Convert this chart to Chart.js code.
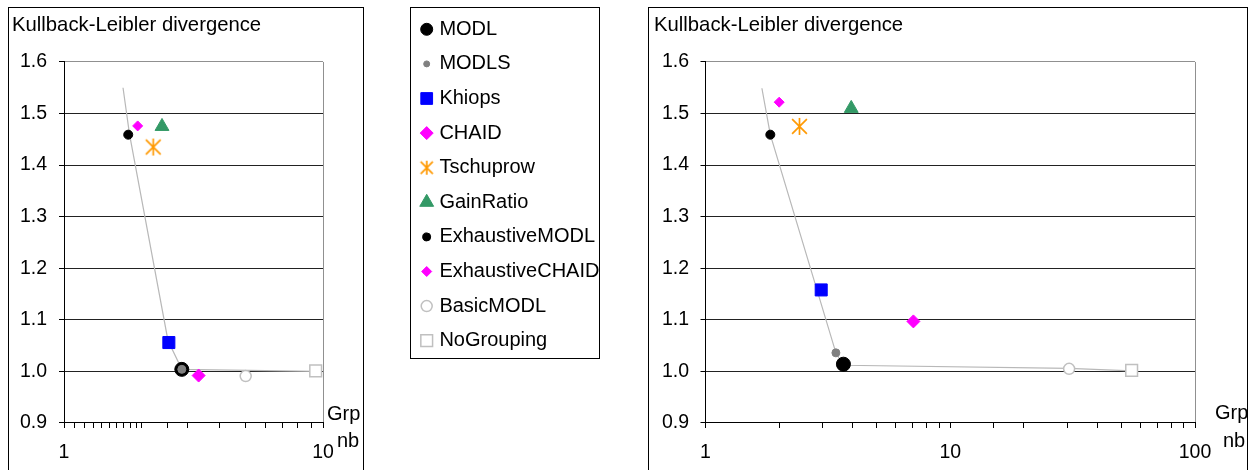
<!DOCTYPE html>
<html>
<head>
<meta charset="utf-8">
<script src="https://cdn.jsdelivr.net/npm/chart.js@4.4.1/dist/chart.umd.min.js"></script>
<style>
body { margin: 0; background: #fff; width: 1253px; height: 470px; position: relative; overflow: hidden;
       font-family: "Liberation Sans", Arial, sans-serif; }
.box { position: absolute; border: 1px solid #000; box-sizing: border-box; }
.box canvas { position: absolute; left: 0; top: 0; }
#leftBox { left: 8px; top: 7px; width: 356px; height: 480px; }
#legendBox { left: 410px; top: 7px; width: 190px; height: 352px; }
#rightBox { left: 648px; top: 7px; width: 600px; height: 480px; }
.lbl { position: absolute; font-size: 20px; line-height: 22px; color: #000; white-space: nowrap; }
</style>
</head>
<body>
<div class="box" id="leftBox"><canvas id="leftChart" width="354" height="462"></canvas></div>
<div class="box" id="legendBox"><canvas id="legendChart" width="188" height="350"></canvas></div>
<div class="box" id="rightBox"><canvas id="rightChart" width="598" height="462"></canvas></div>
<div class="lbl" style="left:327px; top:402px;">Grp</div>
<div class="lbl" style="left:337px; top:429px;">nb</div>
<div class="lbl" style="left:1215px; top:401px;">Grp</div>
<div class="lbl" style="left:1223px; top:429px;">nb</div>
<script>
// methods compared (legend order)
const methods = ['MODL', 'MODLS', 'Khiops', 'CHAID', 'Tschuprow', 'GainRatio',
                 'ExhaustiveMODL', 'ExhaustiveCHAID', 'BasicMODL', 'NoGrouping'];

// left chart: number of groups / KL divergence per method
const leftGroupNb = [2.85, 2.85, 2.54, 3.31, 2.21, 2.39, 1.77, 1.925, 5.03, 9.37];
const leftKL = [1.004, 1.004, 1.056, 0.992, 1.435, 1.475, 1.459, 1.476, 0.991, 1.001];

// right chart
const rightGroupNb = [3.66, 3.41, 2.97, 7.07, 2.42, 3.94, 1.84, 2.0, 30.6, 55.1];
const rightKL = [1.014, 1.036, 1.158, 1.097, 1.475, 1.510, 1.459, 1.522, 1.005, 1.002];

// grey curve (no legend entry)
const leftCurveNb = [1.69, 1.79, 2.52, 2.85, 9.37];
const leftCurveKL = [1.55, 1.46, 1.06, 1.004, 1.0];
const rightCurveNb = [1.70, 1.84, 3.41, 3.66, 30.6, 55.1];
const rightCurveKL = [1.549, 1.459, 1.036, 1.012, 1.006, 1.001];

const yTickLabels = ['0.9', '1.0', '1.1', '1.2', '1.3', '1.4', '1.5', '1.6'];
const leftXMax = 10;
const rightXMax = 100;
const yTitle = 'Kullback-Leibler divergence';

Chart.defaults.font.family = '"Liberation Sans", Arial, sans-serif';
Chart.defaults.color = '#000';

// six-armed asterisk like the Excel marker
function makeAsterisk(size, color) {
    const c = document.createElement('canvas');
    c.width = size;
    c.height = size;
    const ctx = c.getContext('2d');
    const m = size / 2;
    const r = size / 2 - 1;
    ctx.strokeStyle = color;
    ctx.lineWidth = 1.7;
    ctx.beginPath();
    ctx.moveTo(m, m - r); ctx.lineTo(m, m + r);
    ctx.moveTo(m - r * 0.87, m - r * 0.87); ctx.lineTo(m + r * 0.87, m + r * 0.87);
    ctx.moveTo(m + r * 0.87, m - r * 0.87); ctx.lineTo(m - r * 0.87, m + r * 0.87);
    ctx.stroke();
    return c;
}

const markerStyles = {
    'MODL':            { style: 'circle',   r: 7,   lr: 6,   bg: '#000000', bd: '#000000', bw: 1,   order: 2 },
    'MODLS':           { style: 'circle',   r: 4,   lr: 3,   bg: '#808080', bd: '#808080', bw: 1,   order: 1 },
    'Khiops':          { style: 'rect',     r: 8.5, lr: 8.3, bg: '#0000FF', bd: '#0000FF', bw: 1,   order: 1 },
    'CHAID':           { style: 'rectRot',  r: 6.5, lr: 6.5, bg: '#FF00FF', bd: '#FF00FF', bw: 1,   order: 1 },
    'Tschuprow':       { style: makeAsterisk(19, '#FF9900'), legendStyle: makeAsterisk(16, '#FF9900'),
                         r: 9, lr: 8, bg: '#FF9900', bd: '#FF9900', bw: 1, order: 1 },
    'GainRatio':       { style: 'triangle', r: 8,   lr: 8,   bg: '#339966', bd: '#339966', bw: 1,   order: 1 },
    'ExhaustiveMODL':  { style: 'circle',   r: 4.5, lr: 4,   bg: '#000000', bd: '#000000', bw: 1,   order: 1 },
    'ExhaustiveCHAID': { style: 'rectRot',  r: 5,   lr: 5,   bg: '#FF00FF', bd: '#FF00FF', bw: 1,   order: 1 },
    'BasicMODL':       { style: 'circle',   r: 5.5, lr: 5.5, bg: '#FFFFFF', bd: '#C0C0C0', bw: 1.5, order: 1 },
    'NoGrouping':      { style: 'rect',     r: 8.3, lr: 8.3, bg: '#FFFFFF', bd: '#C0C0C0', bw: 1.5, order: 1 }
};

function isPow10(v) {
    const l = Math.log10(v);
    return Math.abs(l - Math.round(l)) < 1e-9;
}

function buildDatasets(groupNb, kl, curveNb, curveKL) {
    const sets = methods.map((name, i) => {
        const s = markerStyles[name];
        return {
            label: name,
            data: [{ x: groupNb[i], y: kl[i] }],
            pointStyle: s.style,
            pointRadius: s.r,
            backgroundColor: s.bg,
            borderColor: s.bd,
            borderWidth: s.bw,
            order: s.order,
            clip: false
        };
    });
    sets.push({
        label: 'curve',
        data: curveNb.map((x, i) => ({ x: x, y: curveKL[i] })),
        showLine: true,
        pointRadius: 0,
        borderColor: '#b8b8b8',
        borderWidth: 1.2,
        order: 3,
        clip: false
    });
    return sets;
}

function makePlot(canvasId, groupNb, kl, curveNb, curveKL, xMax, pad) {
    const yMin = parseFloat(yTickLabels[0]);
    const yMax = parseFloat(yTickLabels[yTickLabels.length - 1]);
    new Chart(document.getElementById(canvasId), {
        type: 'scatter',
        data: { datasets: buildDatasets(groupNb, kl, curveNb, curveKL) },
        options: {
            responsive: false,
            animation: false,
            events: [],
            layout: { autoPadding: false, padding: { left: pad.left, right: pad.right, top: 0, bottom: 0 } },
            plugins: {
                legend: { display: false },
                tooltip: { enabled: false },
                title: {
                    display: true,
                    text: yTitle,
                    align: 'start',
                    color: '#000',
                    font: { size: 20.3, weight: 'normal', lineHeight: 1.2 },
                    padding: { top: 5.3, bottom: 24.3 }
                }
            },
            scales: {
                x: {
                    type: 'logarithmic',
                    min: 1,
                    max: xMax,
                    afterFit: scale => { scale.height = 47; },
                    border: { color: '#000', width: 1 },
                    grid: {
                        drawOnChartArea: true,
                        color: ctx => (ctx.tick && Math.abs(ctx.tick.value - xMax) < 1e-9) ? '#909090' : 'rgba(0,0,0,0)',
                        tickColor: '#000',
                        tickLength: 5
                    },
                    ticks: {
                        autoSkip: false,
                        maxRotation: 0,
                        padding: 12.6,
                        color: '#000',
                        font: { size: 19.5 },
                        callback: v => isPow10(v) ? String(Math.round(v)) : ''
                    }
                },
                y: {
                    type: 'linear',
                    min: yMin,
                    max: yMax,
                    afterFit: scale => { scale.width = pad.axis; },
                    border: { color: '#000', width: 1 },
                    grid: {
                        color: ctx => (ctx.tick && ctx.tick.value > yMax - 1e-6) ? '#909090' : '#222',
                        tickColor: '#000',
                        tickLength: 5
                    },
                    ticks: {
                        stepSize: 0.1,
                        padding: pad.tick,
                        color: '#000',
                        font: { size: 19.5 },
                        callback: v => v.toFixed(1)
                    }
                }
            }
        }
    });
}

makePlot('leftChart', leftGroupNb, leftKL, leftCurveNb, leftCurveKL, leftXMax,
         { left: 3, right: 40, axis: 52, tick: 12 });
makePlot('rightChart', rightGroupNb, rightKL, rightCurveNb, rightCurveKL, rightXMax,
         { left: 5, right: 52, axis: 51.5, tick: 11.5 });

// legend drawn as a small scatter: one marker per method, names as tick labels
new Chart(document.getElementById('legendChart'), {
    type: 'scatter',
    data: {
        datasets: methods.map(name => {
            const s = markerStyles[name];
            return {
                label: name,
                data: [{ x: 0, y: name }],
                pointStyle: s.legendStyle || s.style,
                pointRadius: s.lr,
                backgroundColor: s.bg,
                borderColor: s.bd,
                borderWidth: s.bw,
                clip: false
            };
        })
    },
    options: {
        responsive: false,
        animation: false,
        events: [],
        layout: { autoPadding: false, padding: { left: 10, right: 0, top: 4, bottom: 0 } },
        plugins: { legend: { display: false }, tooltip: { enabled: false } },
        scales: {
            x: { type: 'linear', min: -1, max: 1, display: false },
            y: {
                type: 'category',
                labels: methods,
                offset: true,
                position: 'right',
                afterFit: scale => {
                    scale.width = 166.6;
                    scale.paddingTop = 0;
                    scale.paddingBottom = 0;
                },
                border: { display: false },
                grid: { display: false, drawTicks: false },
                ticks: { padding: 7, color: '#000', font: { size: 20 } }
            }
        }
    }
});
</script>
</body>
</html>
